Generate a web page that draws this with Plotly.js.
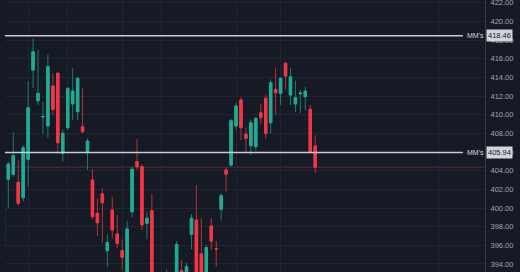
<!DOCTYPE html>
<html>
<head>
<meta charset="utf-8">
<script src="https://cdn.plot.ly/plotly-3.0.1.min.js"></script>
<style>
html,body{margin:0;padding:0;background:#161a25;}
#chart{width:520px;height:272px;}
</style>
</head>
<body>
<div id="chart"></div>
<script>
// OHLC values (one entry per candle, left to right)
var openVals  = [395.9,403.08,403.61,402.75,401.10,405.22,414.79,411.50,409.76,408.79,413.08,414.44,405.86,408.61,411.15,410.32,408.71,405.93,403.00,399.43,401.50,395.42,399.79,397.21,395.42,392.60,399.60,404.96,404.43,398.36,399.71,392.50,391.50,391.80,392.80,392.00,393.28,392.30,397.18,398.71,395.07,392.60,398.07,395.64,399.86,404.07,404.61,408.79,411.58,407.90,406.68,406.57,410.21,411.76,409.14,412.72,412.29,415.51,412.11,411.15,412.25,411.93,410.58,406.65];
var highVals  = [400.5,404.96,408.11,405.14,406.75,413.61,418.19,416.93,411.39,416.47,414.44,414.60,408.43,412.97,414.97,414.04,412.83,407.47,404.15,401.04,402.11,397.18,401.21,399.25,396.65,398.64,404.43,407.40,404.72,399.60,401.50,393.00,392.80,393.43,393.00,396.46,394.43,394.14,399.36,402.47,398.93,396.03,398.93,396.46,401.58,404.40,409.61,411.29,411.86,408.65,409.51,409.75,411.15,412.19,413.79,415.04,414.07,415.68,415.04,413.64,412.65,413.00,411.04,407.82];
var lowVals   = [395.6,399.97,403.35,400.25,400.68,402.28,412.83,411.04,408.00,407.53,409.97,405.79,404.96,408.36,409.43,409.43,408.04,404.07,398.79,397.00,396.22,393.64,396.75,395.68,393.36,392.20,399.00,404.07,397.64,396.65,392.00,390.80,390.50,391.00,391.20,391.50,391.50,391.80,395.57,392.30,392.20,392.00,395.50,393.71,398.64,401.75,404.40,408.43,407.29,406.03,405.68,406.14,408.97,407.40,408.00,409.97,411.04,412.72,411.04,410.26,410.15,410.50,406.00,403.72];
var closeVals = [400.3,404.72,405.61,400.50,406.46,410.75,416.75,412.29,409.82,415.14,410.58,407.00,408.00,412.83,412.54,413.90,408.18,407.18,399.07,398.42,400.57,396.32,397.64,396.22,394.72,397.75,404.15,404.43,398.20,398.90,392.50,391.50,392.30,393.00,391.80,396.11,392.00,393.71,398.90,392.80,392.70,395.75,396.46,395.60,401.32,403.64,409.36,410.93,408.61,407.47,409.14,409.61,409.68,408.00,413.43,412.36,413.90,414.15,414.07,411.82,412.32,412.54,406.03,404.38];

// Horizontal levels and their labels
var levelVals   = [418.46, 405.94];
var levelLabels = ["MM's", "MM's"];

// Time grid positions (candle index) and axis settings
var gridIdx = [5, 13, 24, 32, 47, 56, 88];
var yTicks  = [394, 396, 398, 400, 402, 404, 406, 408, 410, 412, 414, 416, 418, 420, 422];

var idx = openVals.map(function(_, i){ return i; });
var bodyTop = openVals.map(function(o, i){ return Math.max(o, closeVals[i]); });
var bodyBot = openVals.map(function(o, i){ return Math.min(o, closeVals[i]); });
var lastClose = closeVals[closeVals.length - 1];

var green = '#22ab94', red = '#f23645';
var greenWick = '#1a7d6e', redWick = '#b0343f';

// wicks (full high-low range, dim colours)
var wicks = {
  type: 'candlestick',
  x: idx, open: openVals, high: highVals, low: lowVals, close: closeVals,
  increasing: {line: {color: greenWick, width: 1}, fillcolor: greenWick},
  decreasing: {line: {color: redWick, width: 1}, fillcolor: redWick},
  whiskerwidth: 0, hoverinfo: 'skip', showlegend: false
};
// bodies (bright, drawn on top)
var bodies = {
  type: 'candlestick',
  x: idx, open: openVals, high: bodyTop, low: bodyBot, close: closeVals,
  increasing: {line: {color: green, width: 1}, fillcolor: green},
  decreasing: {line: {color: red, width: 1}, fillcolor: red},
  whiskerwidth: 0, hoverinfo: 'skip', showlegend: false
};

var shapes = [];
var annotations = [];
var lineEnd = 0.954;

// last price line
shapes.push({type: 'line', xref: 'paper', yref: 'y', x0: 0, x1: 1, y0: lastClose, y1: lastClose,
  line: {color: '#5a2c36', width: 1}, layer: 'below'});

levelVals.forEach(function(v, k){
  shapes.push({type: 'line', xref: 'paper', yref: 'y', x0: 0, x1: lineEnd, y0: v, y1: v,
    line: {color: '#c9cbd1', width: 1.5}});
  annotations.push({xref: 'paper', yref: 'y', x: 0.958, y: v, xanchor: 'left', yanchor: 'middle',
    text: levelLabels[k], showarrow: false, font: {family: 'Liberation Sans, Arial, sans-serif', size: 7, color: '#d1d4dc'}});
  annotations.push({xref: 'paper', yref: 'y', x: 1.0015, y: v, xanchor: 'left', yanchor: 'middle',
    text: v.toFixed(2), showarrow: false, bgcolor: '#d1d4dc', borderpad: 1,
    font: {family: 'Liberation Sans, Arial, sans-serif', size: 7.5, color: '#131722'}});
});

var layout = {
  width: 520, height: 272,
  margin: {l: 5, r: 35, t: 0, b: 0, pad: 0},
  paper_bgcolor: '#161a25', plot_bgcolor: '#161a25',
  showlegend: false,
  boxmode: 'overlay',
  xaxis: {
    range: [0.33, 97.3], rangeslider: {visible: false},
    tickmode: 'array', tickvals: gridIdx, showticklabels: false, ticks: '',
    showgrid: true, gridcolor: '#222633', gridwidth: 1, zeroline: false, showline: false, fixedrange: true
  },
  yaxis: {
    range: [393.14, 422.3], side: 'right',
    tickmode: 'array', tickvals: yTicks, tickformat: '.2f', ticks: '',
    ticklabelstandoff: 3, ticklabeloverflow: 'allow',
    tickfont: {family: 'Liberation Sans, Arial, sans-serif', size: 7.5, color: '#a3a6af'},
    showgrid: true, gridcolor: '#222633', gridwidth: 1, zeroline: false,
    showline: true, linecolor: '#363a45', linewidth: 1, fixedrange: true
  },
  boxgap: 0.3,
  shapes: shapes,
  annotations: annotations
};

Plotly.newPlot('chart', [wicks, bodies], layout, {displayModeBar: false, staticPlot: true});
</script>
</body>
</html>
